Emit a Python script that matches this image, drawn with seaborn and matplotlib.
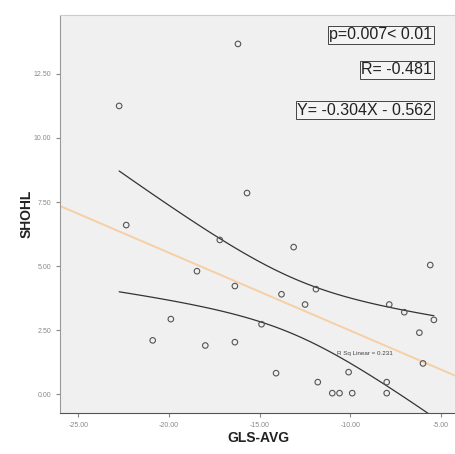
import matplotlib
matplotlib.use('Agg')
import matplotlib.pyplot as plt
import seaborn as sns
import numpy as np
import pandas as pd

# values
gls_avg = [-16.2, -22.75, -15.7, -22.36, -17.2, -13.13, -5.6, -18.46, -16.37, -13.8,
           -11.9, -12.5, -7.86, -7.03, -6.2, -5.4, -6.0, -19.9, -20.9, -18.0,
           -16.37, -14.9, -14.1, -11.8, -11.0, -10.6, -9.9, -10.1, -8.0, -8.0]
shohl = [13.67, 11.25, 7.85, 6.6, 6.02, 5.74, 5.04, 4.8, 4.22, 3.9,
         4.1, 3.5, 3.5, 3.2, 2.4, 2.9, 1.2, 2.93, 2.1, 1.9,
         2.03, 2.73, 0.82, 0.47, 0.04, 0.04, 0.04, 0.86, 0.47, 0.04]
slope, intercept = -0.304, -0.562
x_ticks = [-25, -20, -15, -10, -5]
y_ticks = [0, 2.5, 5, 7.5, 10, 12.5]
stat_texts = ['p=0.007< 0.01', 'R= -0.481', 'Y= -0.304X - 0.562']

df = pd.DataFrame({'GLS-AVG': gls_avg, 'SHOHL': shohl})

sns.set_style('white')
plt.rcParams['font.family'] = ['Liberation Sans', 'DejaVu Sans']

fig = plt.figure(figsize=(4.56, 4.54), dpi=100)
ax = fig.add_axes([0.132, 0.09, 0.868, 0.877])
ax.set_facecolor('#f0f0f0')

# fit line over full axis
xs = np.linspace(-26, -4.18, 100)
ax.plot(xs, slope * xs + intercept, color='#f6cfa6', lw=1.4, zorder=1)

# 95% CI of the mean, over data range
x = np.array(gls_avg)
y = np.array(shohl)
n = len(x)
resid = y - (slope * x + intercept)
s = np.sqrt((resid ** 2).sum() / (n - 2))
sxx = ((x - x.mean()) ** 2).sum()
xc = np.linspace(x.min(), x.max(), 100)
half = 2.048 * s * np.sqrt(1 / n + (xc - x.mean()) ** 2 / sxx)
yc = slope * xc + intercept
ax.plot(xc, yc + half, color='#333333', lw=0.9, zorder=2)
ax.plot(xc, yc - half, color='#333333', lw=0.9, zorder=2)

sns.scatterplot(data=df, x='GLS-AVG', y='SHOHL', ax=ax, marker='o', s=16,
                facecolor='none', edgecolor='#555555', linewidth=0.8, zorder=3)

ax.set_xlim(-26, -4.18)
ax.set_ylim(-0.74, 14.8)
ax.set_xticks(x_ticks)
ax.set_xticklabels([f'{v:.2f}' for v in x_ticks])
ax.set_yticks(y_ticks)
ax.set_yticklabels([f'{v:.2f}' for v in y_ticks])
ax.tick_params(axis='both', labelsize=5, colors='#888888', length=3, width=0.8,
               direction='out', left=True, bottom=True)
ax.set_xlabel('GLS-AVG', fontsize=10, fontweight='bold', color='#222222', labelpad=1)
ax.set_ylabel('SHOHL', fontsize=10, fontweight='bold', color='#222222', labelpad=0)
for side in ['top', 'right']:
    ax.spines[side].set_color('#cccccc')
ax.spines['left'].set_color('#999999')
ax.spines['bottom'].set_color('#555555')

box = dict(boxstyle='square,pad=0.1', facecolor='#f4f4f4', edgecolor='#444444', lw=0.7)
for txt, ypos in zip(stat_texts, [0.95, 0.862, 0.761]):
    ax.text(0.94, ypos, txt, transform=ax.transAxes, ha='right', va='center',
            fontsize=11.5, color='#222222', bbox=box)

ax.text(0.70, 0.151, 'R Sq Linear = 0.231', transform=ax.transAxes, ha='left',
        va='center', fontsize=4.5, color='#444444')

fig.savefig('out.png', dpi=100)
